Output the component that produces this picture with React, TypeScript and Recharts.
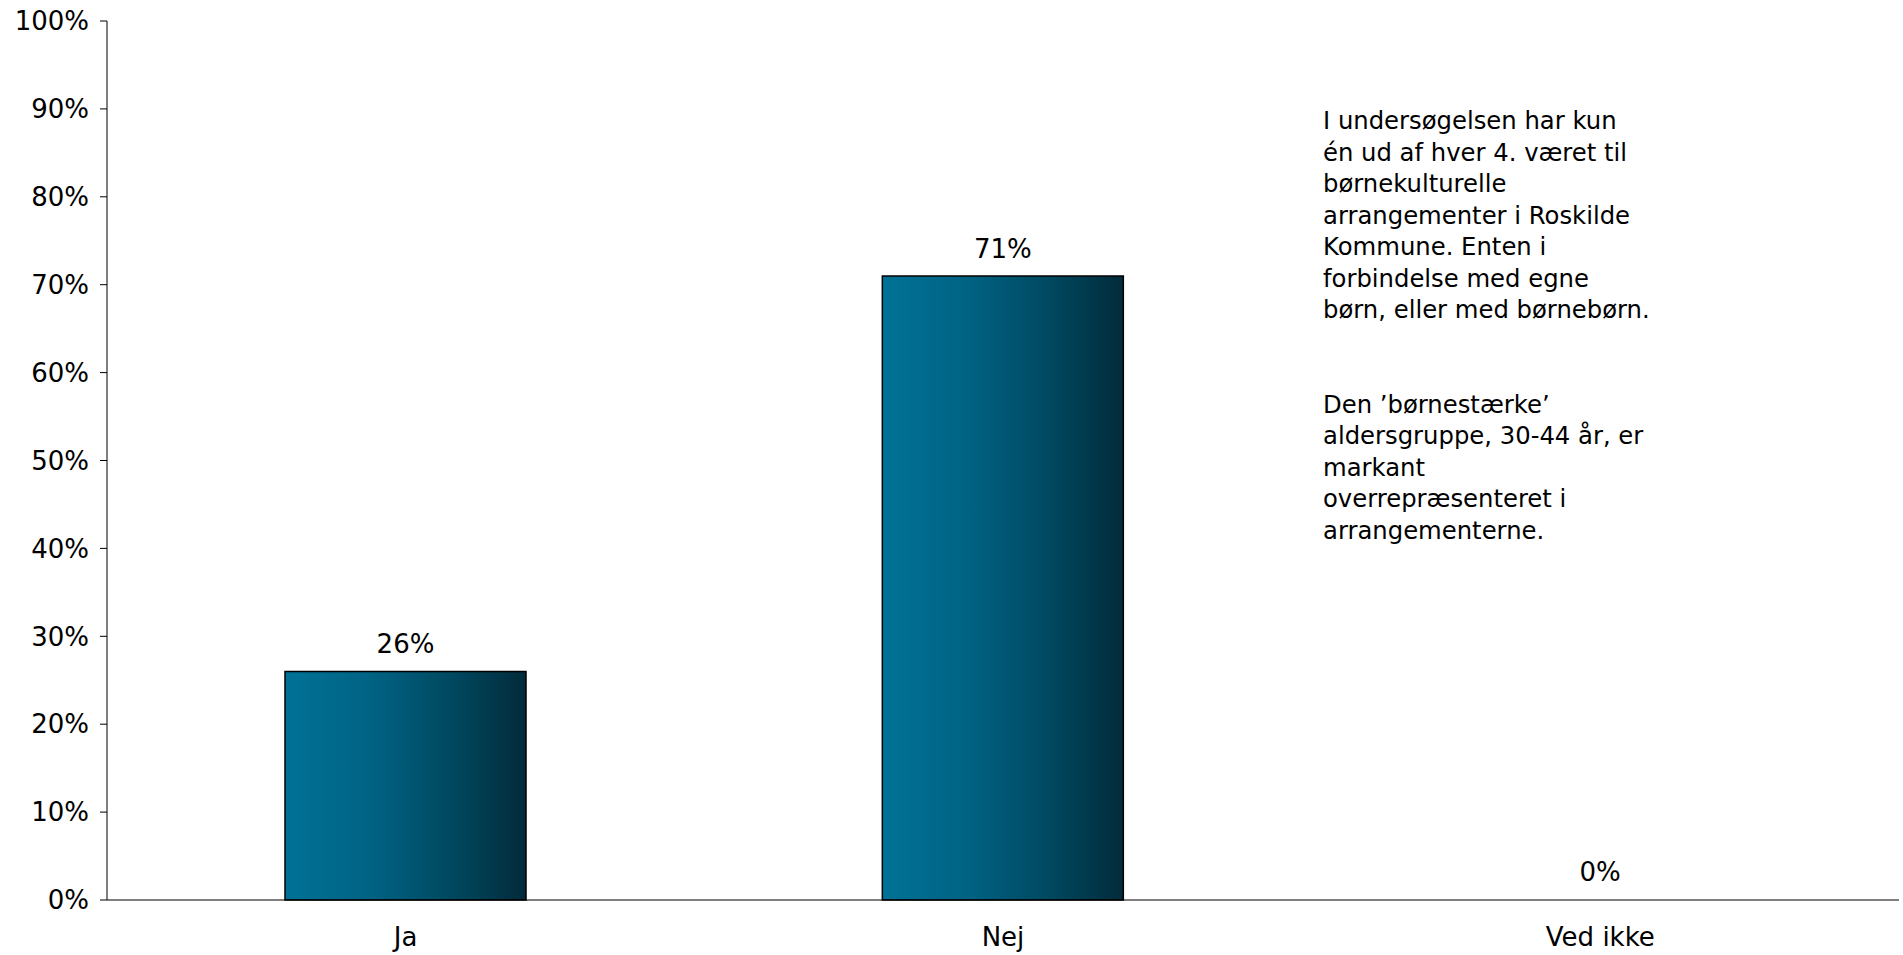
import { Bar, BarChart, Cell, LabelList, XAxis, YAxis } from "recharts";

const categories = ["Ja", "Nej", "Ved ikke"];
const shares = [26, 71, 0];
const yTicks = [0, 10, 20, 30, 40, 50, 60, 70, 80, 90, 100];
const boundaryTicks = [0, 1, 2, 3];

const noteLines = [
  "I undersøgelsen har kun",
  "én ud af hver 4. været til",
  "børnekulturelle",
  "arrangementer i Roskilde",
  "Kommune. Enten i",
  "forbindelse med egne",
  "børn, eller med børnebørn.",
  "",
  "",
  "Den ’børnestærke’",
  "aldersgruppe, 30-44 år, er",
  "markant",
  "overrepræsenteret i",
  "arrangementerne.",
];

const data = categories.map((name, i) => ({ name, value: shares[i] }));
const font = "'DejaVu Sans', Verdana, sans-serif";

export default function App() {
  return (
    <div style={{ position: "absolute", left: 0, top: 0, width: 1903, height: 955, fontFamily: font }}>
      <BarChart
        width={1903}
        height={955}
        data={data}
        margin={{ top: 21, right: 4, bottom: 0, left: 0 }}
        barSize={241}
      >
        <defs>
          <linearGradient id="barFill" x1="0" y1="0" x2="1" y2="0">
            <stop offset="0%" stopColor="#007296" />
            <stop offset="35%" stopColor="#006384" />
            <stop offset="70%" stopColor="#00485f" />
            <stop offset="100%" stopColor="#022b3a" />
          </linearGradient>
        </defs>
        <XAxis
          xAxisId="edges"
          type="number"
          domain={[0, 3]}
          ticks={boundaryTicks}
          tick={false}
          tickSize={8}
          axisLine={false}
          tickLine={{ stroke: "#000" }}
          height={0}
        />
        <XAxis
          dataKey="name"
          height={55}
          axisLine={{ stroke: "#000", strokeWidth: 1.2 }}
          tickLine={false}
          tick={{ fill: "#000", fontSize: 26, fontFamily: font }}
          tickMargin={22}
          interval={0}
        />
        <YAxis
          width={107}
          domain={[0, 100]}
          ticks={yTicks}
          interval={0}
          tickFormatter={(v: number) => `${v}%`}
          axisLine={{ stroke: "#000" }}
          tickLine={{ stroke: "#000" }}
          tickSize={7}
          tickMargin={11}
          tick={{ fill: "#000", fontSize: 26, fontFamily: font }}
        />
        <Bar dataKey="value" minPointSize={1} isAnimationActive={false}>
          {data.map((d) => (
            <Cell
              key={d.name}
              fill={d.value > 0 ? "url(#barFill)" : "none"}
              stroke={d.value > 0 ? "#000" : "none"}
              strokeWidth={1.5}
            />
          ))}
          <LabelList
            dataKey="value"
            position="top"
            offset={18}
            formatter={(v: number) => `${v}%`}
            style={{ fill: "#000", fontSize: 26, fontFamily: font }}
          />
        </Bar>
      </BarChart>
      <div
        style={{
          position: "absolute",
          left: 1323,
          top: 105,
          fontSize: 24.3,
          lineHeight: "31.5px",
          color: "#000",
          whiteSpace: "pre",
        }}
      >
        {noteLines.map((line, i) => (
          <div key={i} style={{ height: 31.5 }}>{line}</div>
        ))}
      </div>
    </div>
  );
}
